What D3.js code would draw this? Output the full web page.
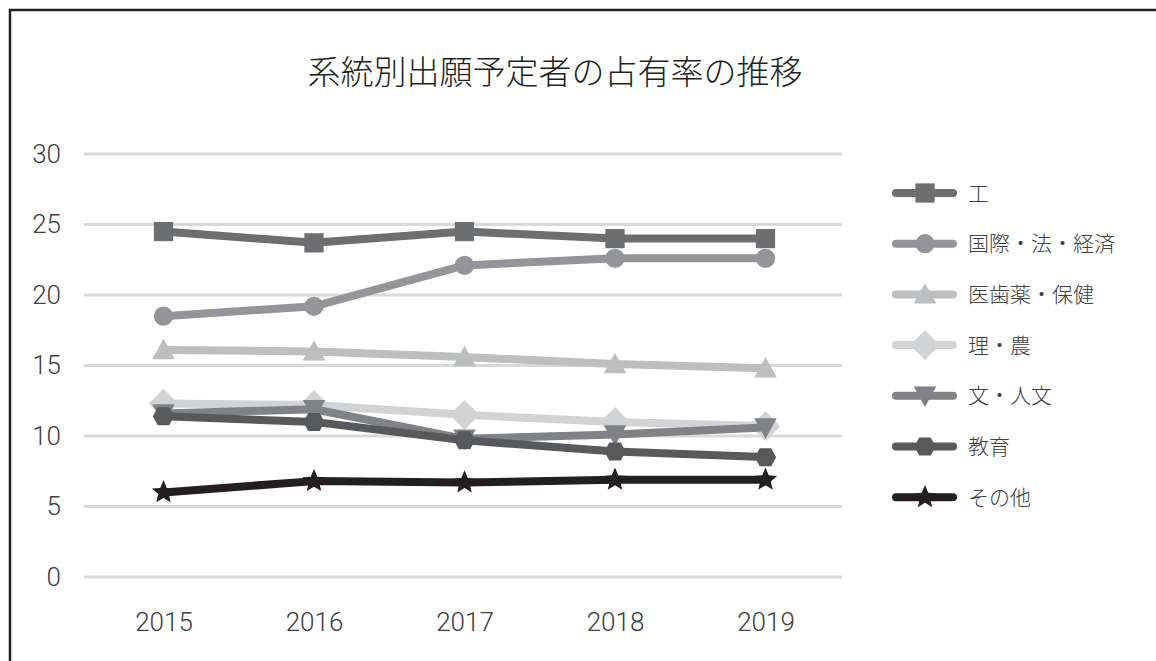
<html>

<head>
    <script src="https://d3js.org/d3.v7.min.js"></script>
    <style>
        body {
            margin: 0;
            background-color: white;
            font-family: "Noto Sans CJK JP", "Noto Sans", sans-serif;
        }
    </style>
</head>

<body>
    <div id="chart"></div>
    <script>
        // data
        var years = ["2015", "2016", "2017", "2018", "2019"];
        var yTicks = [0, 5, 10, 15, 20, 25, 30];
        var seriesNames = ["工", "国際・法・経済", "医歯薬・保健", "理・農", "文・人文", "教育", "その他"];
        var kou = [24.5, 23.7, 24.5, 24.0, 24.0];
        var kokusai = [18.5, 19.2, 22.1, 22.6, 22.6];
        var ishiyaku = [16.1, 16.0, 15.6, 15.1, 14.8];
        var rinou = [12.3, 12.2, 11.5, 11.0, 10.7];
        var bunjin = [11.6, 11.9, 9.8, 10.1, 10.6];
        var kyouiku = [11.4, 11.0, 9.7, 8.9, 8.5];
        var sonota = [6.0, 6.8, 6.7, 6.9, 6.9];

        var seriesValues = [kou, kokusai, ishiyaku, rinou, bunjin, kyouiku, sonota];
        var colors = ["#6d6e70", "#939598", "#bcbec0", "#d1d3d4", "#808285", "#58595b", "#231f20"];

        // custom marker shapes
        function poly(points) {
            return {
                draw: function (ctx, size) {
                    var r = Math.sqrt(size);
                    points.forEach(function (p, i) {
                        if (i === 0) ctx.moveTo(p[0] * r, p[1] * r);
                        else ctx.lineTo(p[0] * r, p[1] * r);
                    });
                    ctx.closePath();
                }
            };
        }
        var star = [];
        for (var i = 0; i < 10; i++) {
            var a = -Math.PI / 2 + i * Math.PI / 5, rr = i % 2 ? 0.27 : 0.6;
            star.push([rr * Math.cos(a), rr * Math.sin(a)]);
        }
        var shapes = [
            poly([[-0.5, -0.5], [0.5, -0.5], [0.5, 0.5], [-0.5, 0.5]]),
            d3.symbolCircle,
            poly([[0, -0.55], [0.55, 0.45], [-0.55, 0.45]]),
            poly([[0, -0.6], [0.6, 0], [0, 0.6], [-0.6, 0]]),
            poly([[-0.55, -0.45], [0.55, -0.45], [0, 0.55]]),
            poly([[-0.52, 0], [-0.28, -0.44], [0.28, -0.44], [0.52, 0], [0.28, 0.44], [-0.28, 0.44]]),
            poly(star)
        ];
        var sizes = [370, 290, 420, 620, 420, 420, 420];

        var width = 1156, height = 661;
        var svg = d3.select("#chart").append("svg")
            .attr("width", width)
            .attr("height", height);

        svg.append("rect")
            .attr("x", 10).attr("y", 10)
            .attr("width", width + 10).attr("height", height + 10)
            .style("fill", "white")
            .style("stroke", "#231f20")
            .style("stroke-width", 2.5);

        svg.append("text")
            .attr("x", 555).attr("y", 84)
            .attr("text-anchor", "middle")
            .style("font-size", "33px")
            .style("font-weight", 300)
            .style("fill", "#231f20")
            .text("系統別出願予定者の占有率の推移");

        var x = d3.scalePoint().domain(years).range([163.5, 765.5]);
        var y = d3.scaleLinear().domain([0, 30]).range([577, 154]);

        // gridlines
        svg.append("g").selectAll("line").data(yTicks).enter()
            .append("line")
            .attr("x1", 84).attr("x2", 842)
            .attr("y1", function (d) { return y(d); })
            .attr("y2", function (d) { return y(d); })
            .style("stroke", "#d9d9d9")
            .style("stroke-width", 3);

        var yAxis = svg.append("g")
            .attr("transform", "translate(61,0)")
            .call(d3.axisLeft(y).tickValues(yTicks).tickSize(0).tickPadding(0));
        var xAxis = svg.append("g")
            .attr("transform", "translate(0,631)")
            .call(d3.axisBottom(x).tickSize(0).tickPadding(0));
        [yAxis, xAxis].forEach(function (ax) {
            ax.select(".domain").remove();
            ax.selectAll("text")
                .style("font-family", "Roboto, \"Liberation Sans\", sans-serif")
                .style("font-size", "26px")
                .style("font-weight", 300)
                .style("fill", "#404041");
        });
        xAxis.selectAll("text").attr("dy", 0);

        var line = d3.line()
            .x(function (d, i) { return x(years[i]); })
            .y(function (d) { return y(d); });

        var series = svg.append("g").selectAll("g").data(seriesValues).enter().append("g");
        series.append("path")
            .attr("d", function (d) { return line(d); })
            .style("fill", "none")
            .style("stroke", function (d, i) { return colors[i]; })
            .style("stroke-width", 8)
            .style("stroke-linejoin", "round");
        series.each(function (vals, si) {
            d3.select(this).selectAll("path.m").data(vals).enter()
                .append("path")
                .attr("class", "m")
                .attr("transform", function (d, i) { return "translate(" + x(years[i]) + "," + y(d) + ")"; })
                .attr("d", d3.symbol().type(shapes[si]).size(sizes[si]))
                .style("fill", colors[si]);
        });

        // legend
        var legend = svg.append("g").selectAll("g").data(seriesNames).enter()
            .append("g")
            .attr("transform", function (d, i) { return "translate(0," + (193 + i * 50.7) + ")"; });
        legend.append("line")
            .attr("x1", 896).attr("x2", 953)
            .style("stroke", function (d, i) { return colors[i]; })
            .style("stroke-width", 8)
            .style("stroke-linecap", "round");
        legend.append("path")
            .attr("transform", "translate(925,0)")
            .attr("d", function (d, i) { return d3.symbol().type(shapes[i]).size(sizes[i])(); })
            .style("fill", function (d, i) { return colors[i]; });
        legend.append("text")
            .attr("x", 968).attr("dy", "0.36em")
            .style("font-size", "21px")
            .style("font-weight", 300)
            .style("fill", "#404041")
            .text(function (d) { return d; });
    </script>
</body>

</html>
